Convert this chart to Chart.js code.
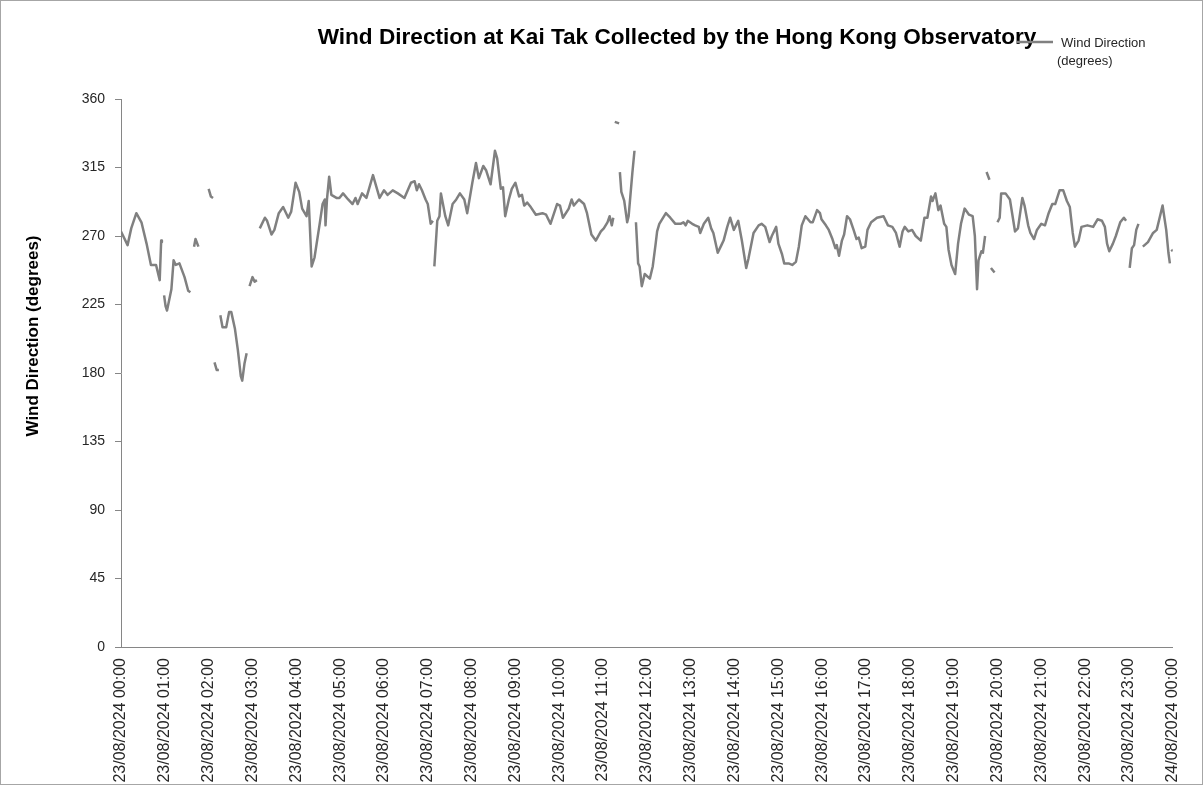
<!DOCTYPE html>
<html>
<head>
<meta charset="utf-8">
<title>Wind Direction at Kai Tak</title>
<script src="https://cdn.jsdelivr.net/npm/chart.js@4.4.1/dist/chart.umd.min.js"></script>
<style>
  html, body { margin: 0; padding: 0; background: #fff; }
  canvas { display: block; }
</style>
</head>
<body>
<canvas id="wind-direction" width="1203" height="785"></canvas>
<script>
var chartTitle = 'Wind Direction at Kai Tak Collected by the Hong Kong Observatory';
var seriesLabel = ['Wind Direction', '(degrees)'];
var yAxisTitle = 'Wind Direction (degrees)';

var timeLabels = [
  '23/08/2024 00:00', '23/08/2024 01:00', '23/08/2024 02:00', '23/08/2024 03:00',
  '23/08/2024 04:00', '23/08/2024 05:00', '23/08/2024 06:00', '23/08/2024 07:00',
  '23/08/2024 08:00', '23/08/2024 09:00', '23/08/2024 10:00', '23/08/2024 11:00',
  '23/08/2024 12:00', '23/08/2024 13:00', '23/08/2024 14:00', '23/08/2024 15:00',
  '23/08/2024 16:00', '23/08/2024 17:00', '23/08/2024 18:00', '23/08/2024 19:00',
  '23/08/2024 20:00', '23/08/2024 21:00', '23/08/2024 22:00', '23/08/2024 23:00',
  '24/08/2024 00:00'
];

// minutes after 23/08/2024 00:00, one line per unbroken stretch of readings
var minutes = [
  0, 9, 14, 21, 28, 35, 41, 48, 53, 55, 56, 57,
  59, 61, 63, 69, 72, 75, 80, 87, 92, 95, 97,
  100, 102, 106, 110,
  120, 123, 126, 127,
  128, 131, 134, 135,
  136, 139, 144, 148, 151, 156, 160, 164, 166, 169, 172, 174,
  176, 180, 183, 186, 188,
  190, 197, 200, 206, 210, 216, 222, 229, 233, 239, 244, 248, 254, 257, 261, 265, 272, 276, 279, 280,
  282, 285, 288, 295, 299, 304, 311, 317, 321, 324, 330, 336, 345, 354, 360, 365, 372, 379, 388, 397,
  402, 405, 408, 412, 417, 420, 424, 427, 428,
  429, 433, 436, 438, 444, 448, 454, 459, 464, 470, 474, 481, 486, 490, 496, 500, 506, 512, 515, 520,
  523, 526, 531, 535, 540, 545, 549, 552, 556, 561, 568, 577, 582, 588, 597, 601, 605, 613, 617, 620,
  627, 634, 638, 644, 650, 657, 661, 666, 669, 672, 674, 675,
  676, 682, 682.5,
  683, 685, 689, 693, 695, 700, 703, 704,
  705, 708, 710, 713, 717, 724, 728, 732, 734, 737, 746, 752, 759, 766, 770, 773, 776, 782, 786, 791,
  793, 798, 804, 808, 811, 817, 822, 825, 830, 834, 839, 845, 850, 856, 859, 866, 873, 877, 882, 888,
  891, 897, 900, 905, 908, 914, 919, 924, 928, 932, 937, 944, 947, 953, 957, 959, 965, 969, 974, 978,
  980, 983, 987, 990, 994, 998, 1003, 1007, 1010, 1014, 1019, 1022, 1027, 1035, 1044, 1050, 1056, 1061, 1066, 1070,
  1073, 1078, 1083, 1088, 1095, 1100, 1104, 1109, 1111, 1115, 1119, 1122, 1127, 1130, 1133, 1137, 1142, 1146, 1150, 1155,
  1161, 1166, 1169, 1172, 1174, 1178, 1180, 1183, 1184,
  1185, 1189, 1190,
  1191, 1196, 1197,
  1200, 1203, 1205, 1211, 1217, 1221, 1224, 1228, 1234, 1237, 1242, 1245, 1250, 1254, 1260, 1265, 1270, 1275, 1279, 1285,
  1290, 1295, 1299, 1303, 1306, 1311, 1315, 1323, 1331, 1337, 1343, 1347, 1350, 1353, 1358, 1362, 1368, 1373, 1376, 1378,
  1381, 1384, 1387, 1390, 1393, 1396,
  1399, 1406, 1413, 1418, 1421, 1426, 1431, 1434, 1436, 1437,
  1438, 1440
];

// wind direction in degrees, null where no reading was recorded
var degrees = [
  273, 264, 275, 285, 279, 265, 251, 251, 241, 267, 266, null,
  231, 224, 221, 235, 254, 251, 252, 243, 234, 233, null,
  263, 268, 263, null,
  301, 296, 295, null,
  187, 182, 182, null,
  218, 210, 210, 220, 220, 209, 195, 178, 175, 186, 193, null,
  237, 243, 240, 241, null,
  275, 282, 280, 271, 274, 285, 289, 282, 286, 305, 299, 288, 283, 293, 250, 256, 278, 291, 294, 277,
  294, 309, 297, 295, 295, 298, 294, 291, 295, 291, 298, 295, 310, 295, 300, 297, 300, 298, 295, 305,
  306, 300, 304, 300, 294, 291, 278, 280, null,
  250, 280, 283, 298, 283, 277, 291, 294, 298, 294, 285, 305, 318, 308, 316, 313, 304, 326, 321, 301,
  302, 283, 294, 301, 305, 296, 297, 290, 292, 289, 284, 285, 284, 278, 291, 290, 282, 288, 294, 290,
  294, 291, 285, 271, 267, 273, 275, 279, 283, 277, 282, null,
  345, 344, null,
  312, 299, 293, 279, 283, 311, 326, null,
  279, 252, 250, 237, 245, 242, 250, 265, 273, 278, 285, 282, 278, 278, 279, 277, 280, 278, 277, 276,
  272, 278, 282, 275, 272, 259, 264, 267, 276, 282, 274, 280, 267, 249, 255, 272, 277, 278, 276, 266,
  270, 276, 265, 258, 252, 252, 251, 253, 263, 277, 283, 279, 279, 287, 285, 281, 277, 274, 268, 262,
  264, 257, 267, 271, 283, 281, 274, 268, 269, 262, 263, 274, 279, 282, 283, 277, 276, 272, 263, 273,
  276, 273, 274, 270, 267, 282, 282, 296, 293, 298, 287, 290, 278, 276, 261, 251, 245, 265, 278, 288,
  284, 283, 270, 235, 254, 260, 259, 270, null,
  312, 307, null,
  249, 246, null,
  279, 282, 298, 298, 294, 282, 273, 275, 295, 290, 277, 272, 268, 274, 278, 277, 285, 291, 291, 300,
  300, 293, 289, 272, 263, 267, 276, 277, 276, 281, 280, 276, 265, 260, 265, 270, 279, 282, 280, null,
  249, 262, 264, 274, 278, null,
  263, 266, 272, 274, 280, 290, 274, 259, 252, null,
  261, 260
];

if (minutes.length !== degrees.length) {
  throw new Error('minutes/degrees length mismatch: ' + minutes.length + ' vs ' + degrees.length);
}

var fontFamily = '"Liberation Sans", Arial, sans-serif';
var lineGrey = '#808080';
var axisGrey = '#868686';

var points = minutes.map(function(m, i) {
  return { x: m, y: degrees[i] };
});

// title, series key, y-axis title and the outer frame, placed as in the original
var chartDecor = {
  id: 'chartDecor',
  afterDraw: function(chart) {
    var c = chart.ctx;
    c.save();

    c.strokeStyle = '#a6a6a6';
    c.lineWidth = 1;
    c.strokeRect(0.5, 0.5, chart.width - 1, chart.height - 1);

    c.fillStyle = '#000';
    c.font = 'bold 22.6px ' + fontFamily;
    c.textAlign = 'center';
    c.textBaseline = 'alphabetic';
    c.fillText(chartTitle, 677, 44);

    c.strokeStyle = lineGrey;
    c.lineWidth = 2.5;
    c.beginPath();
    c.moveTo(1017, 42);
    c.lineTo(1053, 42);
    c.stroke();

    c.fillStyle = '#262626';
    c.font = '13px ' + fontFamily;
    c.textAlign = 'left';
    c.textBaseline = 'middle';
    c.fillText(seriesLabel[0], 1061, 43);
    c.fillText(seriesLabel[1], 1057, 61);

    c.translate(33, 336);
    c.rotate(-Math.PI / 2);
    c.fillStyle = '#000';
    c.font = 'bold 17px ' + fontFamily;
    c.textAlign = 'center';
    c.textBaseline = 'middle';
    c.fillText(yAxisTitle, 0, 0);

    c.restore();
  }
};

var ctx = document.getElementById('wind-direction');
var windChart = new Chart(ctx, {
  type: 'line',
  data: {
    datasets: [
      {
        label: seriesLabel.join(' '),
        data: points,
        borderColor: lineGrey,
        borderWidth: 2.5,
        borderJoinStyle: 'round',
        pointRadius: 0,
        pointHoverRadius: 0,
        spanGaps: false,
        tension: 0,
        fill: false
      }
    ]
  },
  options: {
    responsive: false,
    animation: false,
    devicePixelRatio: 1,
    layout: {
      padding: { left: 0, top: 99, right: 28, bottom: 0 }
    },
    plugins: {
      legend: { display: false },
      title: { display: false },
      tooltip: { enabled: false }
    },
    scales: {
      x: {
        type: 'linear',
        min: 0,
        max: 1440,
        grid: { display: false, drawTicks: false },
        border: { display: true, color: axisGrey, width: 1 },
        ticks: {
          stepSize: 60,
          autoSkip: false,
          minRotation: 90,
          maxRotation: 90,
          padding: 11,
          color: '#262626',
          font: { family: fontFamily, size: 16 },
          callback: function(value) {
            return timeLabels[value / 60];
          }
        },
        afterFit: function(scale) {
          scale.height = 138;
        }
      },
      y: {
        min: 0,
        max: 360,
        grid: {
          drawOnChartArea: false,
          drawTicks: true,
          tickLength: 6,
          color: axisGrey
        },
        border: { display: true, color: axisGrey, width: 1 },
        ticks: {
          stepSize: 45,
          padding: 10,
          color: '#262626',
          font: { family: fontFamily, size: 14 }
        },
        afterFit: function(scale) {
          scale.width = 121;
        }
      }
    }
  },
  plugins: [chartDecor]
});
</script>
</body>
</html>
